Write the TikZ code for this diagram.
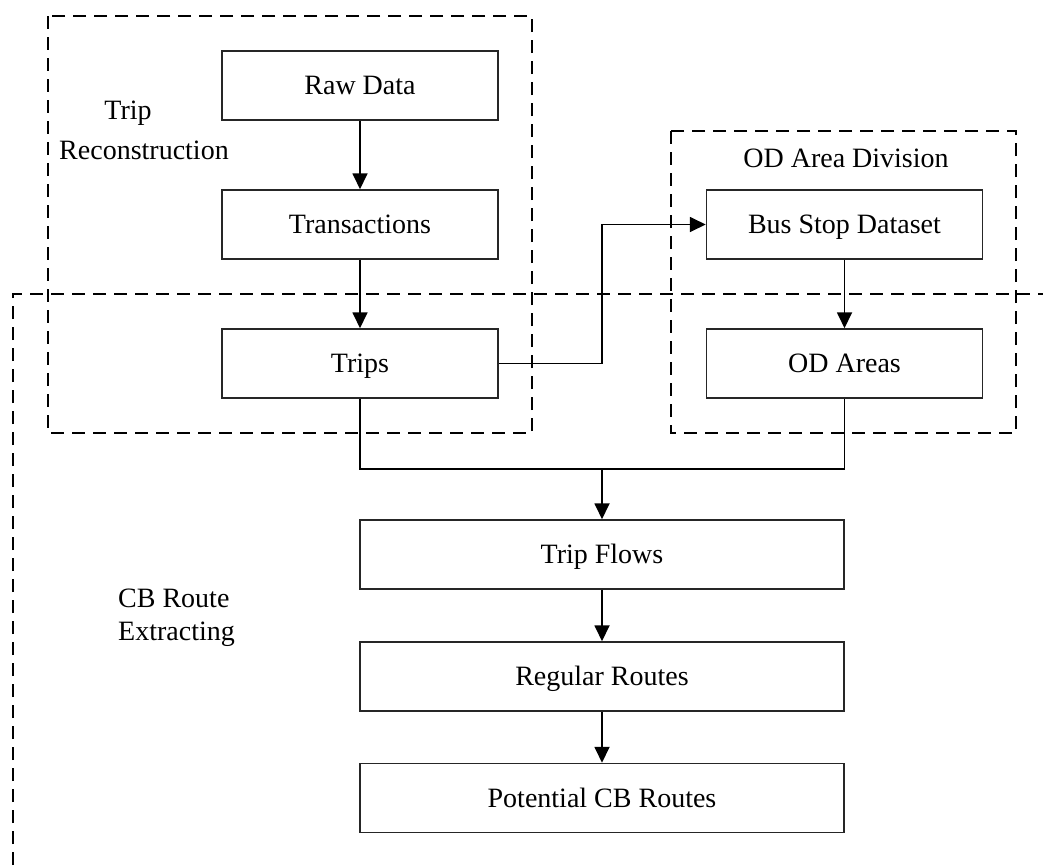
\documentclass[tikz,border=0pt]{standalone}
\usepackage{fontspec}
\setmainfont{Liberation Serif}
\usetikzlibrary{arrows.meta}
\begin{document}
\begin{tikzpicture}[x=1pt,y=-1pt,
  font=\fontsize{28}{33}\selectfont,
  stage/.style={draw=black!85,line width=1.5pt,minimum height=69pt,inner sep=0pt,
    text height=18.5pt,text depth=0pt},
  narrow/.style={stage,minimum width=276pt},
  wide/.style={stage,minimum width=484pt},
  group/.style={draw=black,line width=2.2pt,dash pattern=on 13pt off 8pt},
  flow/.style={draw=black,line width=1.8pt,-{Triangle[width=15pt,length=16pt]}},
  link/.style={draw=black,line width=1.8pt},
  caption/.style={inner sep=0pt,anchor=center}]
\useasboundingbox (0,0) rectangle (1043,865);
\fill[white] (0,0) rectangle (1043,865);

% dashed grouping frames
\draw[group] (48,16) rectangle (532,433);
\draw[group] (671,131) rectangle (1016,433);
\draw[group] (13,865) -- (13,294) -- (1043,294);

% process stages
\node[narrow] (raw) at (360,85.5) {Raw Data};
\node[narrow] (trans) at (360,224.5) {Transactions};
\node[narrow] (trips) at (360,363.5) {Trips};
\node[narrow] (bus) at (844.5,224.5) {Bus Stop Dataset};
\node[narrow] (od) at (844.5,363.5) {OD Areas};
\node[wide] (flows) at (602,554.5) {Trip Flows};
\node[wide] (regular) at (602,676.5) {Regular Routes};
\node[wide] (potential) at (602,798) {Potential CB Routes};

% group captions
\node[caption] (capA1) at (128,113) {Trip};
\node[caption] (capA2) at (144,150) {Reconstruction};
\node[caption] (capB) at (846,158) {OD Area Division};
\node[caption,anchor=west] (capC1) at (118,598) {CB Route};
\node[caption,anchor=west] (capC2) at (118,634) {Extracting};

% connectors
\coordinate (merge) at (602,469);
\draw[flow] (raw.south) -- (trans.north);
\draw[flow] (trans.south) -- (trips.north);
\draw[flow] (trips.east) -- (trips.east -| merge) |- (bus.west);
\draw[flow] (bus.south) -- (od.north);
\draw[link] (trips.south) |- (merge) -| (od.south);
\draw[flow] (merge) -- (flows.north);
\draw[flow] (flows.south) -- (regular.north);
\draw[flow] (regular.south) -- (potential.north);
\end{tikzpicture}
\end{document}
